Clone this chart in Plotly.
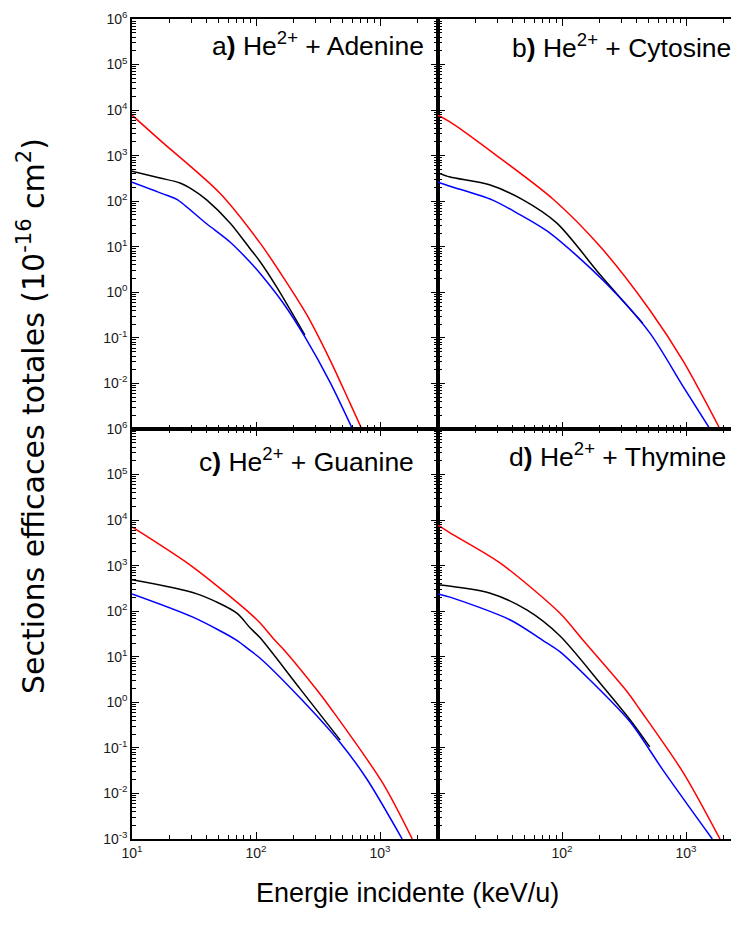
import plotly.graph_objects as go
from plotly.subplots import make_subplots

# ---------------- data ----------------
# Panel a) He2+ + Adenine
a_red_E   = [10, 16.8, 51, 108, 165, 258, 395, 573, 743]
a_red     = [7760, 2190, 151, 12, 2.19, 0.316, 0.033, 0.0037, 0.00078]
a_black_E = [10, 16.8, 24.4, 31, 40, 62, 89, 108, 147, 248]
a_black   = [457, 324, 251, 178, 107, 33, 9.3, 4.7, 1.3, 0.115]
a_blue_E  = [10, 19.1, 23, 40, 62, 89, 108, 165, 248, 395, 600]
a_blue    = [263, 135, 110, 32, 12.6, 4.7, 2.6, 0.59, 0.105, 0.0107, 0.001]

# Panel b) He2+ + Cytosine
b_red_E   = [10, 12.5, 27.8, 84.5, 204, 510, 955, 1880]
b_red     = [7760, 5500, 1150, 112, 10, 0.41, 0.030, 0.001]
b_black_E = [10, 12.5, 26, 48.5, 91, 204, 448]
b_black   = [417, 339, 229, 107, 33, 2.4, 0.21]
b_blue_E  = [10, 12.5, 27.3, 43.4, 80, 213, 510, 955, 1560]
b_blue    = [263, 214, 107, 55, 20, 1.86, 0.129, 0.0083, 0.001]

# Panel c) He2+ + Guanine
c_red_E   = [10, 31, 89, 108, 142, 165, 310, 418, 1050, 1820]
c_red     = [7080, 933, 91, 55, 23, 15, 1.86, 0.63, 0.017, 0.001]
c_black_E = [10, 33.4, 70, 89, 108, 226, 478]
c_black   = [490, 240, 91, 44, 26, 2.0, 0.148]
c_blue_E  = [10, 31, 70, 89, 108, 226, 478, 790, 1510]
c_blue    = [240, 74, 23, 14, 9.3, 1.26, 0.13, 0.02, 0.001]

# Panel d) He2+ + Thymine
d_red_E   = [10, 12.5, 31.6, 96, 148, 333, 427, 955, 1880]
d_red     = [7760, 5250, 1150, 91, 23, 1.75, 0.68, 0.028, 0.001]
d_black_E = [10, 26, 52, 96, 204, 355, 510]
d_black   = [380, 251, 107, 29, 2.6, 0.41, 0.105]
d_blue_E  = [10, 12.5, 38, 70, 96, 168, 355, 650, 1630]
d_blue    = [240, 204, 65, 23, 13, 3.1, 0.37, 0.033, 0.001]

panel_titles = ["a<b>)</b> He<sup>2+</sup> + Adenine",
                "b<b>)</b> He<sup>2+</sup> + Cytosine",
                "c<b>)</b> He<sup>2+</sup> + Guanine",
                "d<b>)</b> He<sup>2+</sup> + Thymine"]

y_major = [1e-3, 1e-2, 1e-1, 1e0, 1e1, 1e2, 1e3, 1e4, 1e5, 1e6]
y_major_text = ["10<sup>-3</sup>", "10<sup>-2</sup>", "10<sup>-1</sup>", "10<sup>0</sup>",
                "10<sup>1</sup>", "10<sup>2</sup>", "10<sup>3</sup>", "10<sup>4</sup>",
                "10<sup>5</sup>", "10<sup>6</sup>"]
x_major = [10, 100, 1000]
x_major_text = ["10<sup>1</sup>", "10<sup>2</sup>", "10<sup>3</sup>"]

x_title = "Energie incidente (keV/u)"
y_title = "Sections efficaces totales (10<sup>-16</sup> cm<sup>2</sup>)"

# ---------------- figure ----------------
FONT = "Liberation Sans, Arial, sans-serif"
OFF = 8                      # default page body margin
PAGE_W, PAGE_H = 739, 925
W, H = PAGE_W - OFF, PAGE_H - OFF
# plot area in page pixels: x 132..(744 -> cropped), y 19..839
L = 132 - OFF
T = 19 - OFF
B = H - (839 - OFF)
R = 0
PW, PH = W - L - R, H - T - B
LEFT_W = 306

fig = make_subplots(rows=2, cols=2, horizontal_spacing=0, vertical_spacing=0,
                    column_widths=[LEFT_W, PW - LEFT_W])

colors = {"red": "#ff0000", "black": "#000000", "blue": "#0000ff"}
panels = [
    (1, 1, [(a_red_E, a_red, "red"), (a_black_E, a_black, "black"), (a_blue_E, a_blue, "blue")]),
    (1, 2, [(b_red_E, b_red, "red"), (b_black_E, b_black, "black"), (b_blue_E, b_blue, "blue")]),
    (2, 1, [(c_red_E, c_red, "red"), (c_black_E, c_black, "black"), (c_blue_E, c_blue, "blue")]),
    (2, 2, [(d_red_E, d_red, "red"), (d_black_E, d_black, "black"), (d_blue_E, d_blue, "blue")]),
]
for r, c, series in panels:
    for xs, ys, col in series:
        fig.add_trace(go.Scatter(x=xs, y=ys, mode="lines",
                                 line=dict(color=colors[col], width=1.5, shape="spline", smoothing=0.8),
                                 showlegend=False, hoverinfo="skip"), row=r, col=c)

y_minor = [m * 10 ** k for k in range(-3, 6) for m in range(2, 10)]
x_minor = [m * 10 ** k for k in range(1, 4) for m in range(2, 10)]

tickfont = dict(family=FONT, size=14, color="#1a1a1a")
lin = 124.0  # px per decade on x
for r in (1, 2):
    for c in (1, 2):
        xr = [1, 1 + LEFT_W / lin] if c == 1 else [1, 1 + (PW - LEFT_W) / lin]
        fig.update_xaxes(type="log", range=xr, showline=True, linecolor="black", linewidth=1.5,
                         mirror="ticks", ticks="inside", ticklen=7, tickwidth=1.2, tickcolor="black",
                         tickmode="array", tickvals=x_major if c == 1 else x_major[1:],
                         ticktext=x_major_text if c == 1 else x_major_text[1:],
                         showticklabels=(r == 2), tickfont=tickfont, showgrid=False, zeroline=False,
                         minor=dict(tickmode="array", tickvals=x_minor, ticks="inside", ticklen=4,
                                    tickwidth=1, tickcolor="black", showgrid=False),
                         row=r, col=c)
        yv = y_major if r == 2 else y_major[1:]
        yt = y_major_text if r == 2 else y_major_text[1:]
        fig.update_yaxes(type="log", range=[-3, 6], showline=True, linecolor="black", linewidth=1.5,
                         mirror=("ticks" if c == 1 else False), ticks="inside", ticklen=7, tickwidth=1.2,
                         tickcolor="black", tickmode="array", tickvals=yv, ticktext=yt,
                         showticklabels=(c == 1), tickfont=tickfont, showgrid=False, zeroline=False,
                         minor=dict(tickmode="array", tickvals=y_minor, ticks="inside", ticklen=4,
                                    tickwidth=1, tickcolor="black", showgrid=False),
                         row=r, col=c)


def px2paper_x(px):
    return (px - OFF - L) / PW


def px2paper_y(py):
    return (H - B - (py - OFF)) / PH


title_pos = [(426, 44), (733, 46), (416, 460), (728, 455)]
for txt, (px, py) in zip(panel_titles, title_pos):
    fig.add_annotation(text=txt, x=px2paper_x(px), y=px2paper_y(py), xref="paper", yref="paper",
                       xanchor="right", yanchor="middle", showarrow=False,
                       font=dict(family=FONT, size=26.5, color="black"))

fig.add_annotation(text=x_title, x=px2paper_x(407), y=px2paper_y(893), xref="paper", yref="paper",
                   xanchor="center", yanchor="middle", showarrow=False,
                   font=dict(family=FONT, size=27, color="black"))
fig.add_annotation(text=y_title, x=px2paper_x(31), y=px2paper_y(416), xref="paper", yref="paper",
                   xanchor="center", yanchor="middle", showarrow=False, textangle=-90,
                   font=dict(family="DejaVu Sans, Liberation Sans, sans-serif", size=30, color="black"))

fig.update_layout(width=W, height=H, margin=dict(l=L, r=R, t=T, b=B, pad=0),
                  plot_bgcolor="white", paper_bgcolor="white", showlegend=False)

fig.write_html("out.html")
